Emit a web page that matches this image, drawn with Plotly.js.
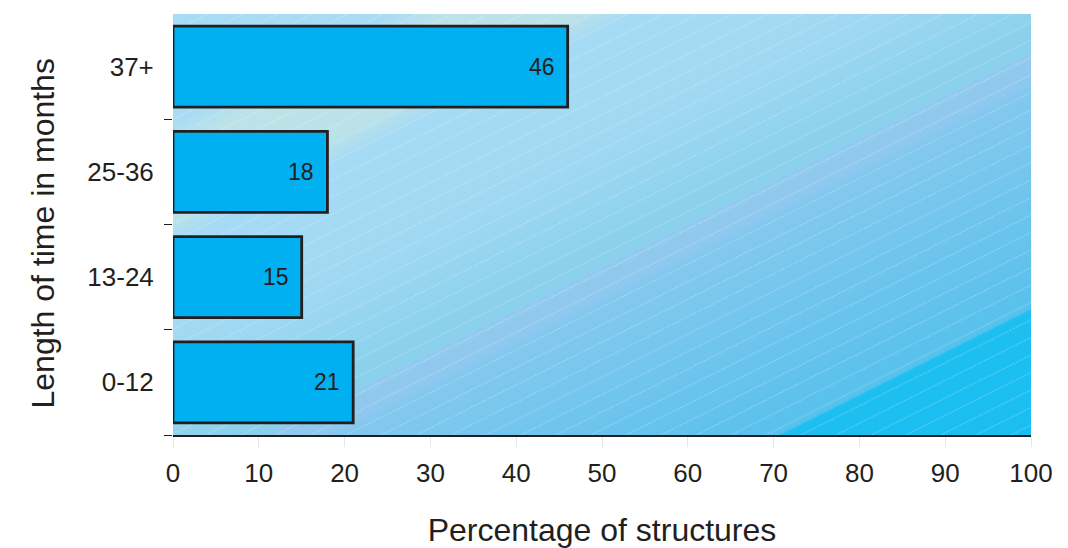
<!DOCTYPE html>
<html>
<head>
<meta charset="utf-8">
<script src="https://cdn.plot.ly/plotly-3.0.1.min.js"></script>
<style>
  html, body { margin: 0; padding: 0; background: #ffffff; }
  #chart { width: 1068px; height: 548px; }
</style>
</head>
<body>
<div id="chart"></div>
<script>
// Survey results: how long structures have been in place
const categories = ['0-12', '13-24', '25-36', '37+'];
const percentages = [21, 15, 18, 46];
const xTicks = [0, 10, 20, 30, 40, 50, 60, 70, 80, 90, 100];
const xTitle = 'Percentage of structures';
const yTitle = 'Length of time in months';

const textColor = '#231f20';
const fontFamily = '"Liberation Sans", Arial, sans-serif';

// Row positions for the categories (bottom to top) and the separators between rows
const rowPos = categories.map((c, i) => i);
const rowBounds = categories.map((c, i) => i - 0.5);

// Decorative backdrop for the plotting area: diagonal colour bands with fine dashed hatching
function backdrop(w, h) {
  const span = h + 0.5 * w;
  const gx = 0.4 * span, gy = 0.8 * span;
  const stops = [
    [0.00, '#a6dcf6'], [0.13, '#a9dcf3'], [0.16, '#bde3e8'], [0.24, '#bbe2e8'],
    [0.27, '#a6dbf5'], [0.40, '#a1d9f3'], [0.53, '#8bd1eb'], [0.548, '#8cd0ec'],
    [0.552, '#92c9ee'], [0.585, '#8fc8ee'], [0.592, '#84c8ee'],
    [0.85, '#58c1ec'], [0.854, '#1dbff0'], [1.00, '#1abef0']
  ].map(s => `<stop offset="${s[0]}" stop-color="${s[1]}"/>`).join('');
  const svg =
    `<svg xmlns="http://www.w3.org/2000/svg" width="${w}" height="${h}" viewBox="0 0 ${w} ${h}">` +
    `<defs><linearGradient id="g" gradientUnits="userSpaceOnUse" x1="0" y1="0" x2="${gx}" y2="${gy}">${stops}</linearGradient>` +
    `<pattern id="p" patternUnits="userSpaceOnUse" width="35" height="17.5">` +
    `<line x1="0" y1="17.5" x2="35" y2="0" stroke="#ffffff" stroke-opacity="0.5" stroke-width="0.7" stroke-dasharray="2,1.2"/>` +
    `</pattern></defs>` +
    `<rect width="${w}" height="${h}" fill="url(#g)"/>` +
    `<rect width="${w}" height="${h}" fill="url(#p)"/>` +
    `</svg>`;
  return 'data:image/svg+xml;base64,' + btoa(svg);
}

const trace = {
  type: 'bar',
  orientation: 'h',
  y: rowPos,
  x: percentages,
  width: 0.77,
  marker: { color: '#00b0f0', line: { color: textColor, width: 2.8 } },
  hoverinfo: 'skip'
};

// Value labels sit inside the right end of each bar
const valueLabels = percentages.map((v, i) => ({
  x: v, y: rowPos[i], xref: 'x', yref: 'y',
  text: String(v), showarrow: false,
  xanchor: 'right', yanchor: 'middle', xshift: -11,
  font: { family: fontFamily, size: 23, color: textColor }
}));

// Vertical axis title, placed a little below the middle of the plot
const yTitleLabel = {
  text: yTitle, textangle: -90, showarrow: false,
  xref: 'paper', yref: 'paper', x: (42 - 173) / 858, y: 0.5,
  xanchor: 'center', yanchor: 'middle', yshift: -9,
  font: { family: fontFamily, size: 32, color: textColor }
};

const layout = {
  width: 1068,
  height: 548,
  margin: { l: 173, r: 37, t: 14, b: 113 },
  paper_bgcolor: '#ffffff',
  plot_bgcolor: '#a6dcf6',
  showlegend: false,
  font: { family: fontFamily, color: textColor },
  xaxis: {
    range: [0, 100],
    tickvals: xTicks,
    ticktext: xTicks.map(String),
    ticks: 'outside',
    ticklen: 10,
    tickcolor: '#e6e6e6',
    tickwidth: 1,
    ticklabelstandoff: 4,
    showgrid: false,
    zeroline: false,
    showline: true,
    linecolor: textColor,
    linewidth: 1.5,
    tickfont: { size: 26, color: textColor },
    title: { text: xTitle, font: { size: 32, color: textColor }, standoff: 38 }
  },
  yaxis: {
    range: [-0.5, 3.5],
    tickvals: rowPos,
    ticktext: categories,
    ticks: 'outside',
    ticklen: 0,
    ticklabelstandoff: 13,
    minor: {
      tickvals: rowBounds,
      ticks: 'outside',
      ticklen: 8,
      tickcolor: textColor,
      tickwidth: 1,
      showgrid: false
    },
    showgrid: false,
    zeroline: false,
    showline: false,
    tickfont: { size: 26, color: textColor }
  },
  annotations: valueLabels.concat([yTitleLabel]),
  images: [{
    source: backdrop(858, 421),
    xref: 'paper', yref: 'paper',
    x: 0, y: 1, sizex: 1, sizey: 1,
    xanchor: 'left', yanchor: 'top',
    sizing: 'stretch',
    layer: 'below'
  }]
};

Plotly.newPlot('chart', [trace], layout, { staticPlot: true, displayModeBar: false });
</script>
</body>
</html>
